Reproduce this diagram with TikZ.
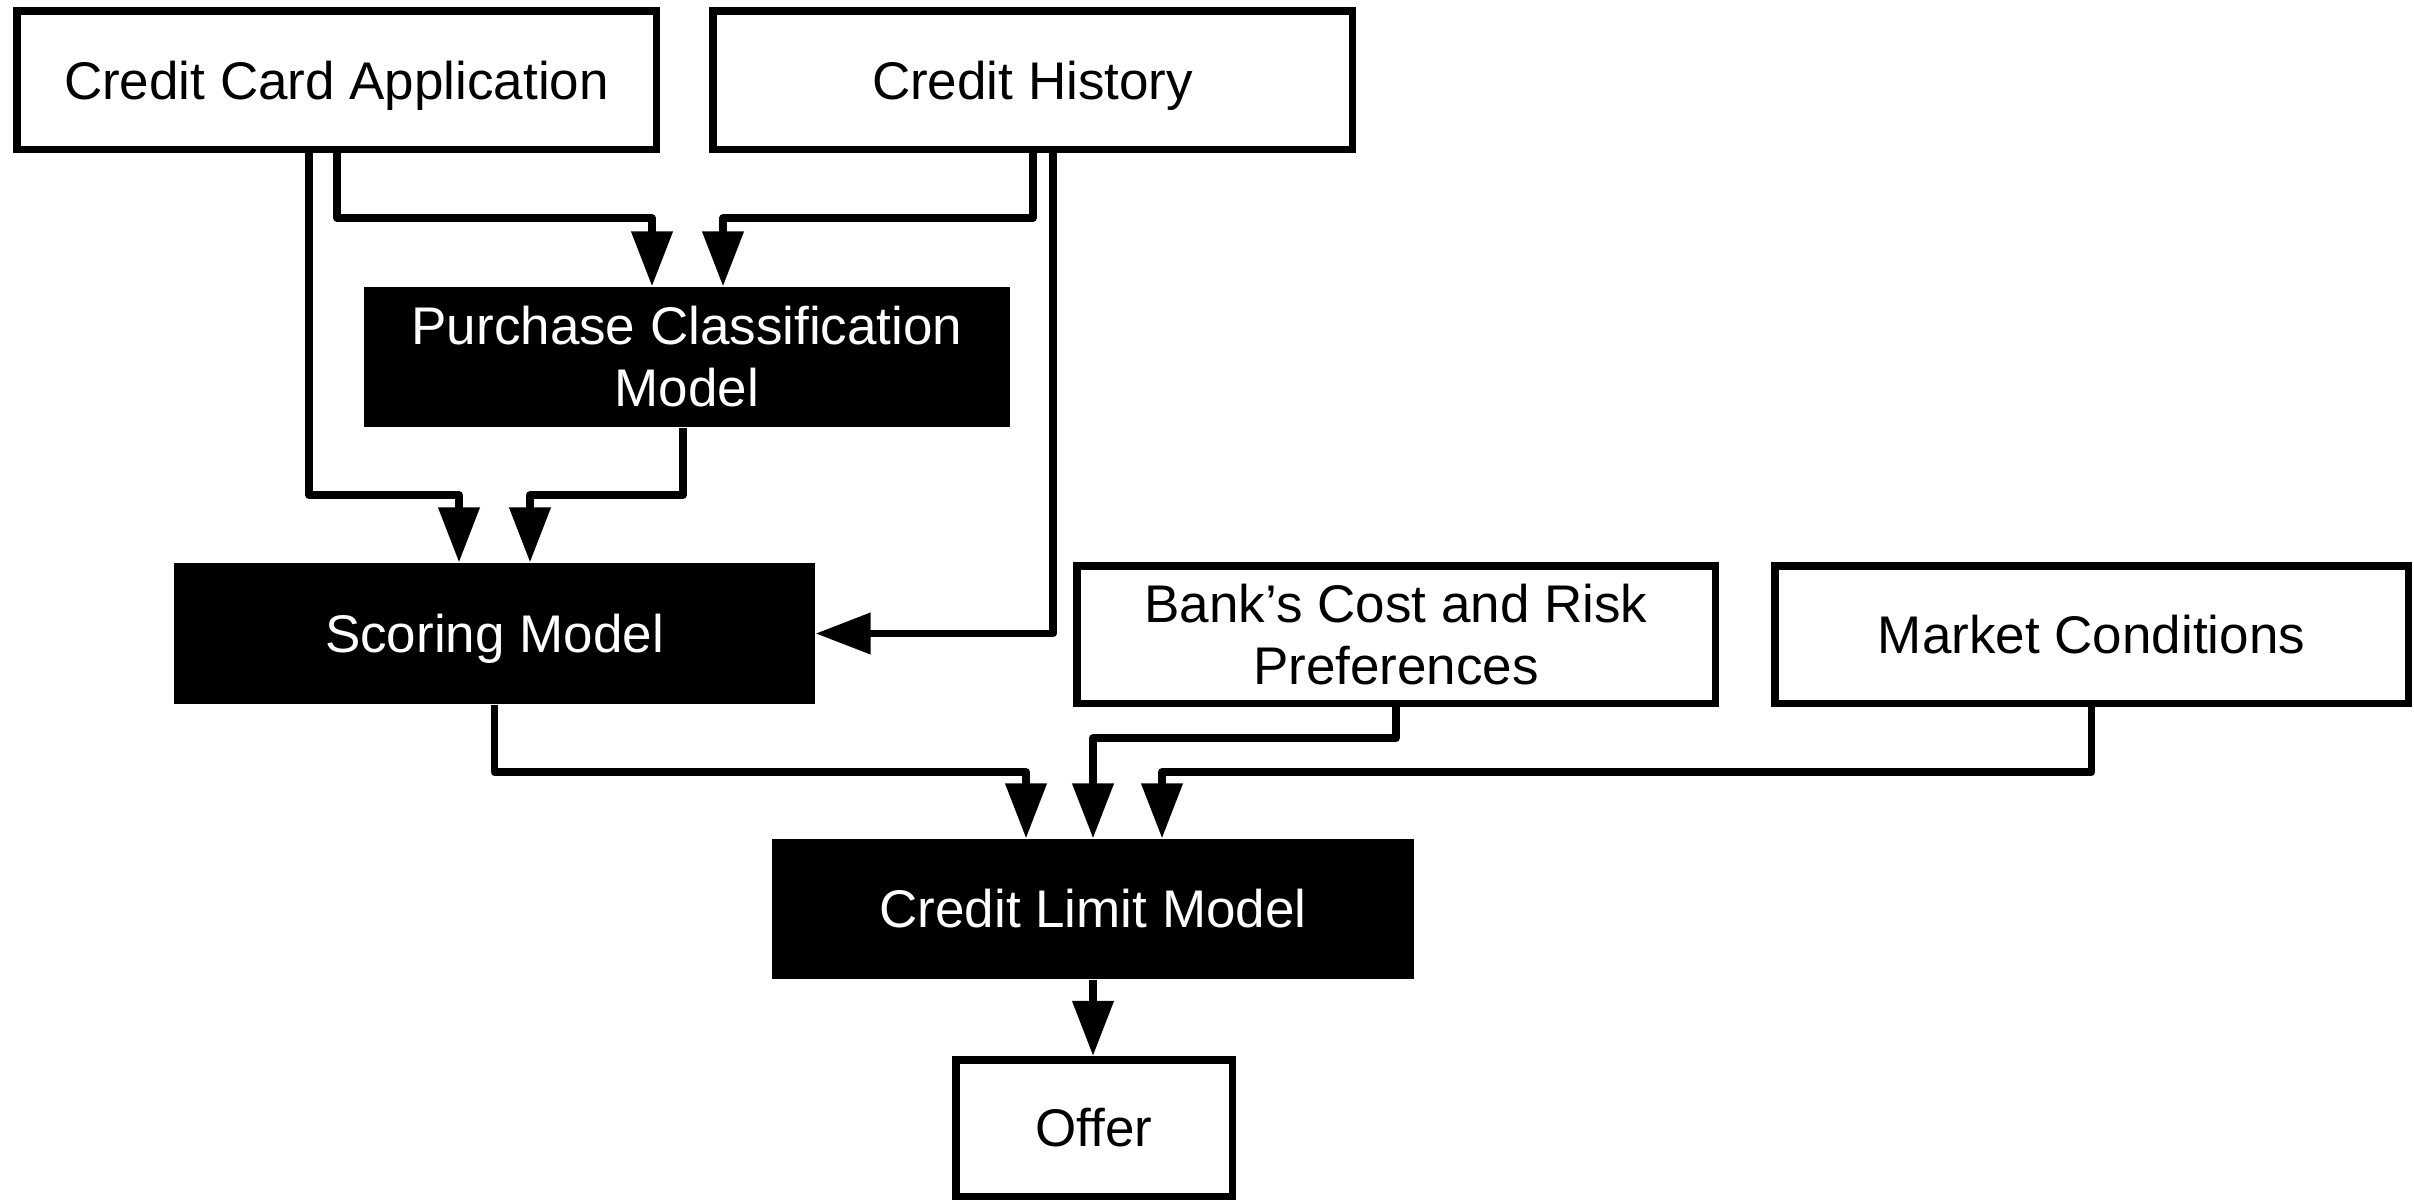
\documentclass[tikz,border=0pt]{standalone}
\usepackage{fontspec}
\setmainfont{Liberation Sans}
\usetikzlibrary{arrows.meta}
\tikzset{
  wbox/.style={draw=black, fill=white, line width=2.3pt, inner sep=0pt, align=center,
    font=\fontsize{15.9pt}{18.6pt}\selectfont, text=black},
  bbox/.style={draw=none, fill=black, inner sep=0pt, align=center,
    font=\fontsize{15.9pt}{18.6pt}\selectfont, text=white},
  nodepth/.style={text depth=0pt},
  conn/.style={line width=2.25pt, line join=round, -{Triangle[length=16.5pt,width=12pt]}},
}
\begin{document}
\begin{tikzpicture}[x=0.3pt,y=-0.3pt]
\useasboundingbox (0,0) rectangle (2414,1200);
\node[wbox, nodepth, minimum width=191.9pt, minimum height=41.6pt] (cca) at (336.5,80) {Credit Card Application};
\node[wbox, nodepth, minimum width=191.9pt, minimum height=41.6pt] (ch) at (1032.5,80) {Credit History};
\node[bbox, minimum width=193.8pt, minimum height=42pt] (pcm) at (687,357) {Purchase Classification\\Model};
\node[bbox, nodepth, minimum width=192.3pt, minimum height=42.3pt] (sm) at (494.5,633.5) {Scoring Model};
\node[wbox, minimum width=191.6pt, minimum height=41.3pt] (bank) at (1396,634.5) {Bank’s Cost and Risk\\Preferences};
\node[wbox, minimum width=190.1pt, minimum height=41.3pt] (mc) at (2091.5,634.5) {Market Conditions};
\node[bbox, minimum width=192.6pt, minimum height=42pt] (clm) at (1093,909) {Credit Limit Model};
\node[wbox, minimum width=83pt, minimum height=41pt] (offer) at (1094,1128) {Offer};

\draw[conn] (cca.south -| 337,0) |- (652,218) -- (pcm.north -| 652,0);
\draw[conn] (ch.south -| 1033,0) |- (723,218) -- (pcm.north -| 723,0);
\draw[conn] (cca.south -| 309,0) |- (459,495) -- (sm.north -| 459,0);
\draw[conn] (pcm.south -| 683,0) |- (530,495) -- (sm.north -| 530,0);
\draw[conn] (ch.south -| 1053,0) |- (sm.east);
\draw[conn] (sm.south) |- (1026,772) -- (clm.north -| 1026,0);
\draw[conn] (bank.south) |- (1093,738) -- (clm.north);
\draw[conn] (mc.south) |- (1162,772) -- (clm.north -| 1162,0);
\draw[conn] (clm.south) -- (offer.north -| clm.south);
\end{tikzpicture}
\end{document}
